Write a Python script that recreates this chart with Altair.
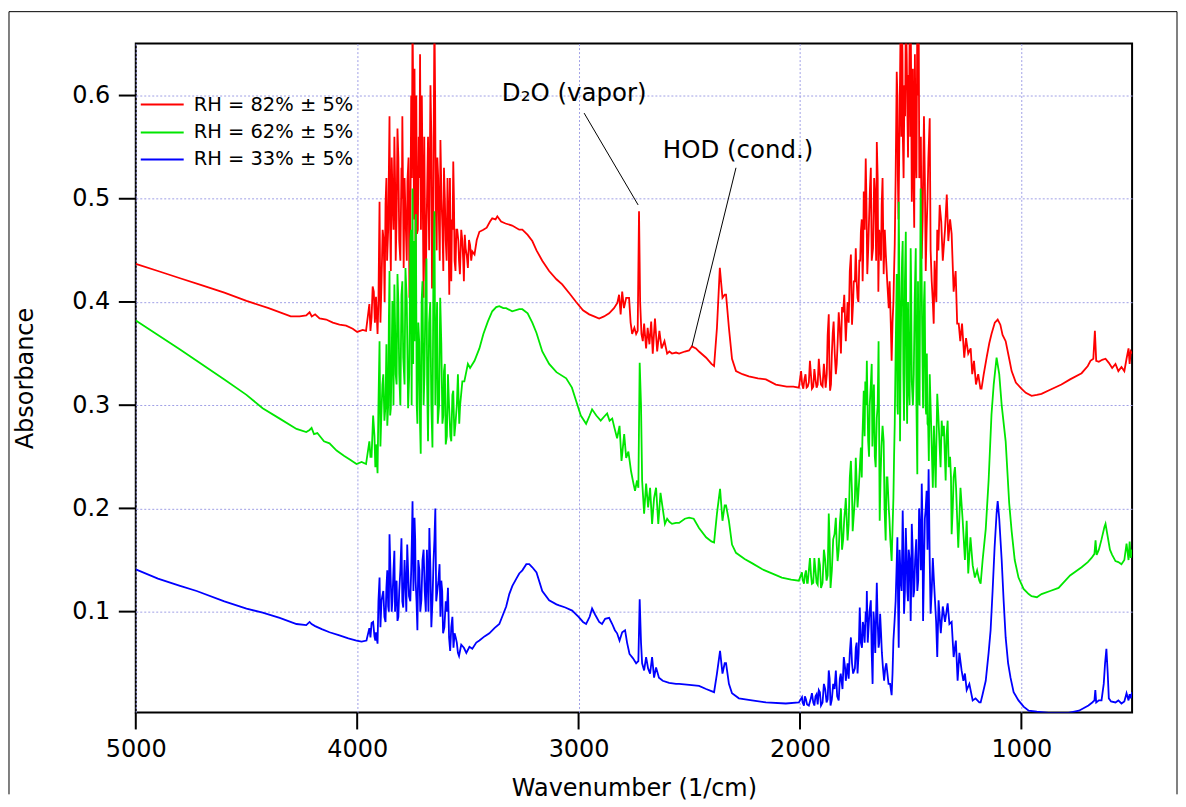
import altair as alt
import pandas as pd

# ---------------- data (wavenumber 1/cm, absorbance) ----------------
red_points = [
    (5000, .437), (4900, .430), (4800, .423), (4700, .416), (4600, .409), (4500, .401),
    (4400, .394), (4300, .386), (4260, .386), (4230, .387), (4215, .390), (4205, .386),
    (4190, .388), (4170, .384), (4140, .383), (4110, .380), (4080, .378), (4050, .377),
    (4020, .374), (4000, .371), (3975, .373), (3960, .372), (3945, .398), (3935, .385),
    (3925, .410), (3915, .405), (3908, .369), (3899, .497), (3890, .420), (3880, .459),
    (3872, .495), (3865, .440), (3854, .580), (3848, .430), (3840, .500), (3832, .560),
    (3826, .440), (3818, .568), (3810, .459), (3800, .530), (3796, .580), (3790, .433),
    (3780, .470), (3773, .517), (3764, .404), (3756, .600), (3750, .680), (3746, .572),
    (3741, .626), (3736, .427), (3730, .466), (3722, .560), (3716, .640), (3705, .530),
    (3700, .404), (3694, .485), (3687, .468), (3680, .560), (3669, .610), (3662, .413),
    (3651, .680), (3645, .490), (3638, .540), (3630, .470), (3624, .557), (3615, .472),
    (3608, .530), (3600, .459), (3592, .520), (3584, .407), (3578, .446), (3572, .480),
    (3566, .536), (3560, .440), (3552, .470), (3543, .459), (3536, .427), (3525, .459),
    (3518, .420), (3510, .452), (3500, .433), (3490, .455), (3480, .449), (3470, .446),
    (3460, .460), (3448, .468), (3430, .470), (3415, .472), (3400, .478), (3390, .481),
    (3375, .480), (3367, .483), (3350, .478), (3330, .476), (3300, .474), (3268, .470),
    (3254, .470), (3230, .465), (3209, .459), (3190, .450), (3164, .440), (3133, .430),
    (3100, .422), (3074, .417), (3040, .408), (3011, .400), (2980, .392), (2952, .388),
    (2930, .386), (2907, .384), (2885, .386), (2862, .389), (2840, .394), (2825, .399),
    (2817, .407), (2810, .388), (2803, .410), (2795, .394), (2785, .404), (2772, .404),
    (2765, .380), (2758, .369), (2748, .375), (2740, .369), (2733, .372), (2727, .488),
    (2722, .400), (2716, .369), (2710, .362), (2704, .379), (2695, .355), (2688, .375),
    (2680, .359), (2672, .381), (2665, .350), (2655, .384), (2645, .352), (2635, .372),
    (2625, .355), (2612, .362), (2600, .350), (2590, .352), (2578, .350), (2560, .351),
    (2546, .350), (2520, .352), (2501, .353), (2488, .357), (2470, .355), (2456, .352),
    (2424, .346), (2400, .340), (2388, .338), (2375, .375), (2362, .433), (2350, .404),
    (2340, .407), (2334, .407), (2321, .375), (2307, .345), (2289, .333), (2260, .330),
    (2231, .328), (2190, .326), (2154, .325), (2109, .320), (2060, .318), (2030, .318),
    (2005, .317), (1995, .333), (1985, .316), (1975, .330), (1965, .318), (1955, .343),
    (1946, .316), (1935, .335), (1925, .317), (1915, .345), (1905, .320), (1892, .340),
    (1884, .317), (1875, .368), (1870, .388), (1864, .314), (1856, .350), (1848, .381),
    (1838, .330), (1830, .360), (1820, .373), (1810, .395), (1800, .407), (1793, .362),
    (1785, .400), (1775, .430), (1770, .446), (1765, .378), (1757, .420), (1748, .452),
    (1740, .404), (1732, .440), (1725, .468), (1717, .420), (1712, .507), (1703, .539),
    (1696, .427), (1688, .480), (1680, .530), (1670, .452), (1660, .500), (1653, .555),
    (1646, .410), (1638, .460), (1631, .494), (1622, .427), (1612, .445), (1599, .394),
    (1590, .380), (1586, .343), (1578, .400), (1572, .456), (1563, .623), (1558, .523),
    (1551, .560), (1545, .680), (1540, .680), (1535, .555), (1528, .610), (1522, .680),
    (1515, .587), (1509, .620), (1504, .680), (1500, .680), (1495, .497), (1490, .626),
    (1484, .472), (1478, .560), (1470, .680), (1464, .680), (1458, .530), (1450, .442),
    (1440, .580), (1432, .430), (1424, .500), (1414, .578), (1405, .420), (1396, .379),
    (1387, .410), (1380, .470), (1369, .494), (1362, .478), (1355, .440), (1345, .470),
    (1337, .504), (1330, .459), (1322, .480), (1315, .466), (1306, .410), (1297, .430),
    (1290, .379), (1283, .379), (1276, .362), (1268, .379), (1258, .346), (1250, .365),
    (1240, .350), (1229, .355), (1222, .330), (1214, .343), (1205, .320), (1195, .330),
    (1185, .316), (1180, .316), (1170, .330), (1157, .346), (1145, .360), (1135, .369),
    (1120, .380), (1107, .383), (1095, .378), (1085, .368), (1071, .362), (1055, .345),
    (1044, .333), (1025, .322), (1000, .316), (980, .312), (954, .309), (930, .310),
    (909, .311), (870, .315), (819, .320), (780, .325), (728, .331), (700, .338),
    (688, .343), (675, .345), (668, .372), (662, .343), (650, .342), (635, .344),
    (620, .345), (605, .341), (590, .336), (575, .340), (562, .333), (548, .337),
    (535, .333), (525, .345), (516, .355), (511, .340), (506, .352), (500, .350),
]
# extra samples in the dense rotational-line bands of the red trace
red_band_points = [
    (3940, .372), (3930, .415), (3920, .380), (3904, .400), (3895, .380), (3885, .470),
    (3876, .400), (3868, .520), (3860, .470), (3851, .470), (3844, .540), (3836, .470),
    (3829, .520), (3822, .480), (3814, .540), (3805, .440), (3798, .500), (3786, .520),
    (3776, .440), (3768, .540), (3760, .470), (3753, .520), (3743, .480), (3733, .600),
    (3726, .470), (3719, .520), (3712, .470), (3708, .600), (3697, .560), (3690, .420),
    (3683, .520), (3675, .450), (3665, .560), (3657, .470), (3648, .600), (3641, .450),
    (3634, .520), (3627, .440), (3619, .500), (3611, .430), (3604, .500), (3596, .440),
    (3588, .480), (3581, .520), (3575, .420), (3569, .470), (3563, .500), (3556, .430),
    (3548, .470), (3540, .440), (3530, .470), (3521, .440), (3514, .465), (3505, .445),
    (3495, .460), (3485, .440),
    (1990, .320), (1980, .325), (1970, .317), (1960, .322), (1950, .328), (1940, .318),
    (1930, .325), (1920, .320), (1910, .330), (1898, .318), (1888, .330), (1879, .330),
    (1867, .335), (1860, .320), (1852, .370), (1843, .350), (1834, .340), (1825, .390),
    (1815, .350), (1805, .390), (1796, .380), (1780, .380), (1760, .400), (1752, .420),
    (1744, .420), (1736, .400), (1728, .440),
    (1721, .480), (1715, .440), (1708, .470), (1700, .500), (1692, .450), (1684, .510),
    (1676, .440), (1665, .520), (1656, .440), (1649, .520), (1642, .470), (1634, .440),
    (1627, .520), (1617, .470), (1606, .420), (1595, .420), (1582, .380), (1575, .430),
    (1568, .520), (1560, .600), (1555, .480), (1548, .620), (1542, .560), (1537, .640),
    (1532, .520), (1525, .580), (1518, .640), (1512, .540), (1507, .600), (1502, .560),
    (1498, .620), (1492, .580), (1487, .520), (1481, .640), (1474, .520), (1467, .600),
    (1461, .520), (1454, .560), (1446, .480), (1436, .520), (1428, .470), (1420, .540),
    (1410, .450), (1400, .400), (1392, .440), (1384, .400), (1375, .450),
]

green_points = [
    (5000, .382), (4900, .368), (4800, .354), (4725, .343), (4600, .325), (4500, .310),
    (4427, .297), (4350, .287), (4274, .277), (4230, .274), (4215, .276), (4206, .278),
    (4195, .272), (4180, .273), (4150, .265), (4125, .263), (4093, .256), (4060, .251),
    (4030, .247), (4003, .243), (3980, .245), (3960, .243), (3945, .265), (3935, .250),
    (3922, .270), (3915, .262), (3908, .234), (3899, .362), (3892, .282), (3886, .320),
    (3877, .285), (3868, .359), (3860, .300), (3854, .430), (3848, .297), (3841, .401),
    (3832, .417), (3826, .330), (3818, .427), (3810, .330), (3800, .407), (3792, .346),
    (3782, .433), (3770, .297), (3760, .459), (3754, .300), (3750, .510), (3745, .459),
    (3741, .362), (3735, .485), (3728, .282), (3720, .362), (3713, .253), (3705, .420),
    (3696, .330), (3687, .442), (3680, .265), (3670, .400), (3660, .259), (3651, .488),
    (3643, .362), (3636, .282), (3625, .404), (3615, .282), (3608, .333), (3600, .262),
    (3590, .330), (3575, .265), (3566, .314), (3556, .282), (3545, .330), (3539, .282),
    (3525, .323), (3516, .323), (3500, .340), (3490, .336), (3470, .343), (3448, .355),
    (3430, .369), (3410, .381), (3390, .391), (3372, .395), (3358, .396), (3340, .394),
    (3327, .394), (3300, .391), (3268, .393), (3254, .393), (3230, .389), (3209, .380),
    (3190, .370), (3164, .352), (3133, .340), (3100, .332), (3056, .326), (3030, .317),
    (3011, .304), (2990, .290), (2966, .282), (2950, .290), (2939, .296), (2920, .290),
    (2900, .285), (2880, .290), (2871, .292), (2860, .285), (2848, .287), (2838, .278),
    (2826, .268), (2815, .280), (2806, .246), (2794, .272), (2785, .249), (2775, .255),
    (2763, .236), (2753, .225), (2745, .217), (2736, .227), (2730, .220), (2724, .341),
    (2718, .300), (2713, .227), (2704, .195), (2695, .224), (2686, .201), (2677, .220),
    (2668, .185), (2659, .210), (2650, .220), (2640, .185), (2630, .215), (2620, .200),
    (2610, .185), (2600, .190), (2590, .187), (2578, .185), (2560, .186), (2546, .186),
    (2520, .190), (2501, .191), (2480, .190), (2456, .181), (2424, .172), (2400, .168),
    (2388, .167), (2375, .195), (2361, .219), (2350, .188), (2340, .203), (2334, .203),
    (2321, .188), (2307, .165), (2289, .157), (2250, .151), (2217, .147), (2170, .141),
    (2127, .137), (2082, .133), (2040, .131), (2005, .130), (1991, .138), (1982, .127),
    (1973, .140), (1965, .128), (1955, .152), (1946, .127), (1935, .152), (1925, .128),
    (1915, .152), (1905, .123), (1892, .160), (1880, .130), (1870, .195), (1862, .123),
    (1850, .170), (1838, .191), (1830, .149), (1820, .185), (1810, .160), (1800, .190),
    (1793, .210), (1785, .169), (1775, .230), (1770, .246), (1762, .178), (1755, .200),
    (1748, .249), (1740, .201), (1732, .230), (1725, .259), (1718, .268), (1712, .314),
    (1705, .323), (1698, .343), (1692, .265), (1685, .300), (1676, .340), (1670, .288),
    (1662, .250), (1653, .288), (1645, .362), (1640, .188), (1632, .260), (1622, .265),
    (1613, .169), (1605, .230), (1599, .200), (1592, .170), (1586, .149), (1578, .210),
    (1572, .282), (1563, .427), (1558, .291), (1554, .497), (1548, .265), (1543, .394),
    (1536, .459), (1530, .285), (1522, .468), (1516, .282), (1509, .320), (1500, .452),
    (1495, .323), (1486, .330), (1477, .452), (1470, .233), (1464, .330), (1455, .510),
    (1450, .413), (1444, .297), (1437, .420), (1430, .291), (1424, .282), (1418, .246),
    (1410, .300), (1400, .220), (1387, .220), (1380, .311), (1369, .259), (1360, .285),
    (1350, .280), (1342, .227), (1333, .285), (1322, .250), (1315, .175), (1306, .230),
    (1295, .220), (1285, .162), (1275, .220), (1265, .188), (1255, .150), (1247, .188),
    (1240, .137), (1230, .172), (1220, .145), (1210, .133), (1200, .140), (1190, .130),
    (1184, .127), (1175, .150), (1161, .180), (1148, .227), (1135, .291), (1125, .320),
    (1112, .346), (1100, .330), (1089, .300), (1071, .265), (1055, .205), (1044, .178),
    (1030, .150), (1013, .133), (990, .122), (967, .117), (954, .115), (930, .114),
    (909, .117), (870, .120), (832, .123), (780, .135), (728, .143), (700, .148),
    (683, .152), (670, .156), (665, .169), (660, .155), (650, .160), (638, .170),
    (625, .182), (620, .185), (612, .175), (600, .160), (590, .155), (575, .149),
    (562, .148), (548, .146), (535, .150), (525, .166), (516, .150), (511, .168),
    (506, .152), (500, .160),
]
green_band_points = [
    (3940, .250), (3928, .290), (3918, .240), (3904, .300), (3895, .260), (3882, .330),
    (3872, .300), (3864, .280), (3857, .380), (3851, .290), (3844, .350), (3836, .300),
    (3829, .380), (3822, .320), (3814, .400), (3805, .300), (3796, .420), (3786, .320),
    (3776, .400), (3765, .330), (3757, .470), (3747, .340), (3738, .440), (3731, .300),
    (3724, .380), (3716, .280), (3709, .400), (3700, .300), (3692, .400), (3684, .320),
    (3675, .380), (3665, .300), (3656, .420), (3647, .300), (3639, .400), (3630, .300),
    (3620, .360), (3611, .290), (3604, .340), (3595, .270), (3585, .300), (3579, .270),
    (3570, .310), (3561, .270), (3550, .300), (3535, .300),
    (1988, .131), (1978, .135), (1968, .128), (1950, .135), (1940, .128), (1930, .140),
    (1920, .126), (1910, .145), (1898, .128), (1886, .150), (1875, .135), (1866, .170),
    (1856, .140), (1844, .175), (1834, .165), (1825, .160), (1815, .200), (1805, .170),
    (1796, .200), (1780, .185), (1765, .215), (1752, .210), (1744, .225), (1736, .215),
    (1721, .230), (1715, .290), (1708, .270), (1701, .300), (1695, .300), (1688, .250),
    (1680, .320), (1673, .260), (1666, .320), (1658, .240), (1649, .300), (1636, .230),
    (1627, .280), (1618, .200), (1609, .230), (1596, .190), (1582, .180), (1575, .250),
    (1568, .350), (1560, .300), (1551, .420), (1546, .330), (1539, .440), (1533, .330),
    (1526, .420), (1519, .330), (1512, .400), (1505, .300), (1498, .420), (1490, .300),
    (1482, .400), (1474, .300), (1467, .420), (1460, .300), (1452, .460), (1447, .350),
    (1440, .400), (1433, .300), (1427, .350), (1421, .280), (1414, .330), (1405, .260),
    (1395, .280), (1385, .250), (1375, .290), (1365, .240), (1355, .270), (1338, .270),
    (1328, .240), (1318, .230), (1310, .200), (1300, .240), (1290, .190),
]

blue_points = [
    (5000, .141), (4900, .132), (4800, .125), (4725, .120), (4600, .110), (4500, .103),
    (4427, .099), (4350, .094), (4274, .088), (4230, .087), (4215, .090), (4206, .088),
    (4190, .086), (4160, .083), (4125, .080), (4080, .077), (4040, .074), (4003, .072),
    (3980, .071), (3958, .072), (3945, .084), (3935, .089), (3922, .076), (3915, .080),
    (3908, .069), (3899, .133), (3890, .111), (3877, .095), (3868, .123), (3860, .105),
    (3854, .175), (3848, .127), (3841, .110), (3832, .159), (3826, .115), (3818, .091),
    (3810, .120), (3800, .171), (3792, .104), (3782, .127), (3774, .165), (3766, .115),
    (3756, .140), (3750, .207), (3741, .191), (3736, .130), (3728, .082), (3719, .140),
    (3710, .111), (3700, .160), (3690, .100), (3674, .181), (3665, .085), (3655, .150),
    (3647, .200), (3638, .120), (3628, .146), (3620, .130), (3612, .079), (3600, .110),
    (3590, .123), (3580, .062), (3570, .095), (3560, .079), (3550, .070), (3540, .057),
    (3530, .068), (3518, .065), (3507, .060), (3493, .066), (3480, .064), (3462, .070),
    (3448, .072), (3425, .076), (3403, .079), (3380, .084), (3358, .088), (3327, .105),
    (3313, .117), (3299, .125), (3281, .132), (3268, .137), (3254, .140), (3236, .146),
    (3223, .146), (3209, .143), (3190, .138), (3164, .120), (3133, .111), (3100, .107),
    (3088, .106), (3060, .104), (3029, .101), (3000, .095), (2980, .090), (2966, .088),
    (2950, .095), (2939, .103), (2925, .097), (2907, .090), (2894, .088), (2880, .093),
    (2862, .094), (2848, .088), (2836, .082), (2826, .079), (2815, .072), (2803, .080),
    (2790, .082), (2781, .070), (2770, .059), (2755, .055), (2740, .050), (2730, .052),
    (2724, .112), (2718, .070), (2713, .050), (2704, .043), (2695, .056), (2686, .045),
    (2677, .040), (2668, .056), (2659, .036), (2650, .046), (2637, .036), (2620, .033),
    (2591, .031), (2560, .030), (2546, .030), (2500, .029), (2456, .028), (2424, .025),
    (2400, .023), (2388, .022), (2375, .040), (2361, .062), (2350, .040), (2340, .050),
    (2334, .050), (2321, .030), (2307, .021), (2276, .016), (2217, .014), (2154, .012),
    (2064, .011), (2005, .012), (1991, .017), (1982, .009), (1973, .015), (1960, .009),
    (1946, .021), (1935, .009), (1925, .020), (1915, .024), (1905, .009), (1892, .030),
    (1880, .012), (1870, .043), (1862, .009), (1850, .030), (1838, .043), (1825, .014),
    (1816, .040), (1802, .056), (1793, .033), (1785, .050), (1770, .075), (1760, .040),
    (1748, .065), (1740, .040), (1730, .104), (1720, .065), (1712, .085), (1703, .100),
    (1698, .120), (1690, .085), (1680, .111), (1672, .030), (1665, .090), (1653, .128),
    (1645, .065), (1638, .098), (1630, .060), (1620, .033), (1610, .050), (1600, .030),
    (1586, .019), (1578, .072), (1568, .110), (1560, .172), (1554, .065), (1545, .130),
    (1536, .198), (1530, .098), (1522, .181), (1515, .120), (1509, .160), (1500, .091),
    (1495, .185), (1488, .114), (1480, .150), (1470, .120), (1462, .200), (1450, .224),
    (1444, .091), (1436, .190), (1428, .217), (1419, .238), (1410, .098), (1400, .152),
    (1390, .110), (1380, .056), (1374, .111), (1364, .079), (1355, .105), (1345, .090),
    (1333, .108), (1325, .088), (1315, .090), (1306, .056), (1296, .072), (1288, .033),
    (1280, .060), (1270, .043), (1262, .033), (1255, .040), (1247, .024), (1235, .030),
    (1220, .014), (1207, .016), (1190, .012), (1184, .012), (1175, .020), (1161, .033),
    (1148, .060), (1139, .082), (1130, .120), (1121, .162), (1112, .195), (1107, .207),
    (1100, .190), (1089, .150), (1080, .110), (1071, .075), (1060, .050), (1049, .036),
    (1035, .022), (1013, .014), (990, .008), (967, .004), (930, .003), (877, .002),
    (830, .002), (787, .002), (740, .004), (697, .009), (680, .012), (670, .014),
    (666, .024), (662, .012), (650, .014), (638, .014), (628, .030), (622, .050),
    (616, .064), (610, .040), (605, .016), (595, .013), (575, .012), (562, .014),
    (548, .011), (535, .013), (525, .021), (516, .014), (511, .020), (506, .016),
    (500, .022),
]
blue_band_points = [
    (3940, .075), (3928, .090), (3918, .072), (3904, .110), (3895, .085), (3882, .120),
    (3872, .090), (3864, .140), (3857, .100), (3851, .150), (3844, .100), (3836, .140),
    (3829, .100), (3822, .130), (3814, .095), (3805, .140), (3796, .110), (3786, .150),
    (3778, .100), (3770, .140), (3760, .110), (3753, .170), (3746, .120), (3738, .170),
    (3732, .110), (3724, .150), (3715, .100), (3705, .150), (3695, .120), (3685, .160),
    (3678, .100), (3669, .140), (3660, .110), (3651, .170), (3643, .110), (3633, .130),
    (3624, .095), (3616, .120), (3606, .085), (3595, .100), (3585, .075), (3575, .085),
    (3565, .065), (3555, .075), (3545, .060),
    (1988, .012), (1978, .018), (1968, .010), (1952, .015), (1940, .012), (1930, .018),
    (1920, .010), (1910, .022), (1898, .012), (1886, .025), (1875, .015), (1866, .035),
    (1856, .015), (1844, .025), (1832, .018), (1820, .035), (1808, .025), (1796, .045),
    (1780, .035), (1775, .060), (1765, .050), (1752, .045), (1744, .070), (1735, .060),
    (1725, .070), (1716, .090), (1708, .070), (1700, .090), (1694, .070), (1686, .100),
    (1676, .060), (1668, .100), (1660, .060), (1649, .090), (1642, .070), (1634, .080),
    (1625, .045), (1615, .045), (1605, .040), (1593, .030), (1582, .040), (1573, .090),
    (1564, .140), (1557, .110), (1550, .160), (1541, .120), (1533, .160), (1526, .120),
    (1518, .150), (1512, .110), (1504, .150), (1498, .120), (1491, .160), (1484, .120),
    (1475, .170), (1466, .130), (1458, .180), (1454, .140), (1447, .190), (1440, .140),
    (1432, .200), (1424, .160), (1414, .150), (1405, .120), (1395, .130), (1385, .090),
]

series_labels = ["RH = 82% ± 5%", "RH = 62% ± 5%", "RH = 33% ± 5%"]
series_colors = ["#ff0000", "#00e600", "#0000ff"]

x_ticks = [5000, 4000, 3000, 2000, 1000]
y_ticks = [0.1, 0.2, 0.3, 0.4, 0.5, 0.6]

ann_labels = ["D\u2082O (vapor)", "HOD (cond.)"]
ann_text_wn = [3020, 2280]
ann_text_abs = [0.601, 0.546]
ann_line_from_wn = [2975, 2289]
ann_line_from_abs = [0.583, 0.530]
ann_line_to_wn = [2731, 2488]
ann_line_to_abs = [0.494, 0.357]

# ---------------- chart ----------------
FONT = "DejaVu Sans"
W, H = 998, 670
TICK = 17
X_LO, X_HI = 500, 5000
Y_LO, Y_HI = 0.0023, 0.6503

xscale = alt.Scale(domain=[X_LO, X_HI], reverse=True, nice=False, zero=False)
yscale = alt.Scale(domain=[Y_LO, Y_HI], nice=False, zero=False)
x_axis = alt.Axis(values=x_ticks, format="d", title="Wavenumber (1/cm)", labelFlush=False,
                  ticks=False, tickSize=0, domain=False, zindex=0,
                  labelPadding=TICK + 8, titlePadding=15)
y_axis = alt.Axis(values=y_ticks, format=".1f", title="Absorbance", labelFlush=False,
                  ticks=False, tickSize=0, domain=False, zindex=0,
                  labelPadding=TICK + 9, titlePadding=34)

layers = []
series = [
    (red_points + red_band_points, series_labels[0], series_colors[0]),
    (green_points + green_band_points, series_labels[1], series_colors[1]),
    (blue_points + blue_band_points, series_labels[2], series_colors[2]),
]
for pts, lab, col in series:
    df = pd.DataFrame(pts, columns=["wn", "A"]).sort_values("wn", ascending=False)
    df["series"] = lab
    layers.append(
        alt.Chart(df).mark_line(color=col, strokeWidth=1.8, clip=True).encode(
            x=alt.X("wn:Q", scale=xscale, axis=x_axis),
            y=alt.Y("A:Q", scale=yscale, axis=y_axis),
        )
    )

# annotations
ann_df = pd.DataFrame({"label": ann_labels, "wn": ann_text_wn, "A": ann_text_abs})
layers.append(
    alt.Chart(ann_df).mark_text(font=FONT, fontSize=24.5, color="black", align="center", baseline="middle").encode(
        x=alt.X("wn:Q", scale=xscale, axis=x_axis),
        y=alt.Y("A:Q", scale=yscale, axis=y_axis),
        text="label:N",
    )
)
lead_df = pd.DataFrame({"x1": ann_line_from_wn, "y1": ann_line_from_abs,
                        "x2": ann_line_to_wn, "y2": ann_line_to_abs})
layers.append(
    alt.Chart(lead_df).mark_rule(color="black", strokeWidth=1).encode(
        x=alt.X("x1:Q", scale=xscale, axis=x_axis), x2="x2:Q",
        y=alt.Y("y1:Q", scale=yscale, axis=y_axis), y2="y2:Q",
    )
)

# legend drawn inside the plot
one = pd.DataFrame({"k": [0]})
legend_rows_y = [61, 89, 116]
for lab, col, yy in zip(series_labels, series_colors, legend_rows_y):
    layers.append(alt.Chart(one).mark_rule(color=col, strokeWidth=2).encode(
        x=alt.value(5), x2=alt.value(48), y=alt.value(yy)))
    layers.append(alt.Chart(one).mark_text(font=FONT, fontSize=19.5, color="black",
                                           align="left", baseline="middle", text=lab).encode(
        x=alt.value(58), y=alt.value(yy)))

# outer picture frame (left, top, right)
FL, FT, FR, FB = -127, -32, 1043, 752
layers.append(alt.Chart(one).mark_rule(color="black", strokeWidth=1).encode(
    x=alt.value(FL), y=alt.value(FT), y2=alt.value(FB)))
layers.append(alt.Chart(one).mark_rule(color="black", strokeWidth=1).encode(
    x=alt.value(FL), x2=alt.value(FR), y=alt.value(FT)))
layers.append(alt.Chart(one).mark_rule(color="black", strokeWidth=1).encode(
    x=alt.value(FR), y=alt.value(FT), y2=alt.value(FB)))

# outward tick marks (axis decoration): positions follow the same linear mapping as the scales
for t in x_ticks:
    px = (X_HI - t) / (X_HI - X_LO) * W
    layers.append(alt.Chart(one).mark_rule(color="black", strokeWidth=2).encode(
        x=alt.value(px), y=alt.value(H), y2=alt.value(H + TICK)))
for t in y_ticks:
    py = (Y_HI - t) / (Y_HI - Y_LO) * H
    layers.append(alt.Chart(one).mark_rule(color="black", strokeWidth=2).encode(
        x=alt.value(-TICK), x2=alt.value(0), y=alt.value(py)))

chart = alt.layer(*layers).properties(
    width=W, height=H,
    padding={"left": 0, "top": 2, "right": 0, "bottom": 0},
    background="white",
).configure_view(
    stroke="black", strokeWidth=2
).configure_axis(
    labelFont=FONT, labelFontSize=24, labelColor="black",
    titleFont=FONT, titleFontSize=24, titleFontWeight="normal", titleColor="black",
    gridColor="#a0a0e6", gridDash=[2, 2], gridWidth=1,
)

chart.save("out.html", embed_options={"renderer": "svg", "actions": False})
